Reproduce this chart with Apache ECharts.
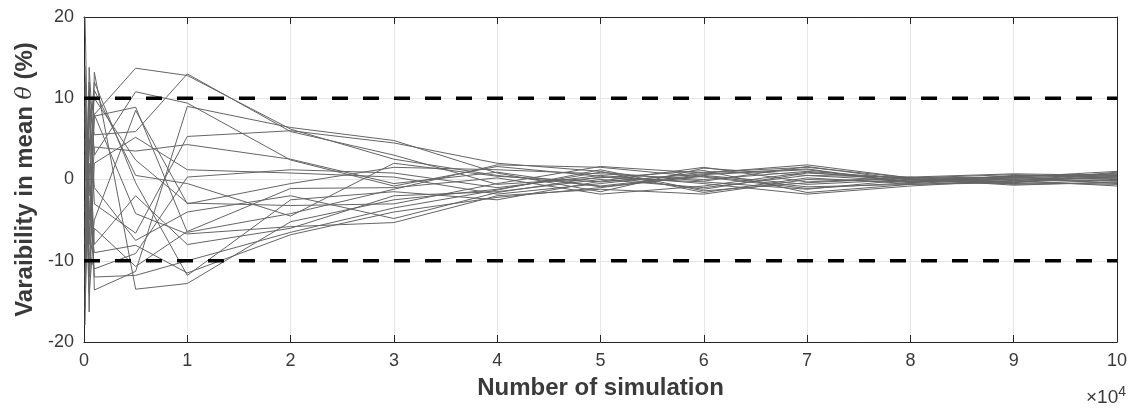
<!DOCTYPE html>
<html>
<head>
<meta charset="utf-8">
<script src="https://cdn.jsdelivr.net/npm/echarts@6/dist/echarts.min.js"></script>
<style>
  html, body { margin: 0; padding: 0; background: #fff; }
  #chart { width: 1130px; height: 408px; }
</style>
</head>
<body>
<div id="chart"></div>
<script>
// simulation counts (x), axis shown in units of 10^4
const simCounts = [100, 500, 1000, 5000, 10000, 20000, 30000, 40000, 50000, 60000, 70000, 80000, 90000, 100000]
const xTicks = ['0', '1', '2', '3', '4', '5', '6', '7', '8', '9', '10']
const yTicks = [-20, -10, 0, 10, 20]
const limitUpper = 10
const limitLower = -10

// variability of mean theta (%) for each run
const run01 = [20, -5, 8, 13.7, 12.8, 6.2, 2.5, 0.5, -0.8, 0.6, 1.2, -0.3, 0.2, 0.5]
const run02 = [-17.9, 13.8, 3, 10.8, 9.4, 2.4, -0.8, 1.6, 0.4, -1.2, 0.8, 0.1, -0.2, 0.9]
const run03 = [14, -8, 7.8, 8.9, -6.5, -4.2, -1.2, 1.8, 1.5, 0.3, -1.1, -0.4, 0.5, 0.2]
const run04 = [-15, 11, -13.6, -11.3, 9, 6.4, 4.8, 0.8, -1.5, 1.4, 0.5, 0.3, -0.6, -0.4]
const run05 = [8, -16.3, 13.2, -13.5, -12.8, -5.2, -2.5, -1.2, 0.9, -0.2, 1.6, -0.1, 0.4, 0.7]
const run06 = [-10, 9, 5.5, 5.9, 13.0, 5.9, 3.0, -0.6, 0.2, 1.1, -1.6, -0.6, -0.4, -0.6]
const run07 = [5, -12, 2, 5.2, 1.2, 0.8, 0.3, -1.8, -0.5, 0.9, 1.5, 0.2, 0.6, 0.3]
const run08 = [-6, 12, -3, -6.6, 5.3, 6.0, 4.5, 2.0, 1.0, -1.6, 0.2, -0.5, 0.1, -0.2]
const run09 = [11, -4, -9, -8.1, -11.5, -6.8, -4.0, -2.2, -1.0, 0.5, -0.6, 0.0, -0.3, 0.4]
const run10 = [-13, 7, 10, 2.4, -2.9, -3.2, -3.0, -0.5, 1.6, 0.8, 1.8, 0.2, 0.3, 1.0]
const run11 = [3, -14, -6, -10.7, -6.4, -1.1, -1.0, 0.2, -1.8, -0.8, 0.9, -0.2, -0.5, -0.1]
const run12 = [-3, 4, 12, -0.4, -11.8, -2.5, -1.5, -2.5, -0.2, 1.5, -0.3, 0.3, 0.7, 0.5]
const run13 = [9, -9, -11, -9.1, 0.3, 1.2, 0.8, -1.0, 0.5, -0.5, -1.8, -0.8, -0.1, -0.8]
const run14 = [-8, 10, 8, -4.2, -6.7, -5.8, -5.3, -2.0, -1.2, -1.8, 0.0, -0.3, 0.2, 0.1]
const run15 = [12, -11, -5, 8.5, -3, -0.5, 1.5, 1.2, 0.7, 0.0, 1.0, 0.1, -0.7, -0.3]
const run16 = [-16, 5, -8, -2.0, -8.0, -6.0, -2.0, -1.5, 0.0, -1.0, 0.5, -0.2, 0.4, 0.6]
const run17 = [7, -7, 4, 3.5, 4.3, 2.5, -0.5, 0.9, -0.9, 0.4, -0.9, -0.6, -0.2, 0.0]
const run18 = [-12, 2, -12, -11.8, -10, -6.5, -3.5, -1.3, 1.2, -1.4, -0.4, 0.2, 0.0, 0.3]
const run19 = [4, -2, 11, 0.5, -0.5, -4.5, 2.0, 0.4, -0.3, 0.7, 1.3, -0.4, 0.3, -0.5]
const run20 = [-4, 8, -1, -7.5, -4.0, -2.0, -4.8, -1.6, 0.3, -0.3, -1.2, 0.0, -0.4, 0.8]

const runs = [run01, run02, run03, run04, run05, run06, run07, run08, run09, run10,
  run11, run12, run13, run14, run15, run16, run17, run18, run19, run20]

const font = 'Liberation Sans, Arial, sans-serif'
const axisColor = '#262626'
const labelColor = '#3a3a3a'

const chart = echarts.init(document.getElementById('chart'))

const runSeries = runs.map(function (r, i) {
  return {
    name: 'run' + (i + 1),
    type: 'line',
    data: simCounts.map(function (x, k) { return [x, r[k]] }),
    showSymbol: false,
    lineStyle: { color: '#656565', width: 1 },
    silent: true,
    animation: false
  }
})

function limitLine(v) {
  return {
    type: 'line',
    data: [[0, v], [100000, v]],
    showSymbol: false,
    lineStyle: { color: '#000', width: 3.5, type: [16, 15] },
    silent: true,
    animation: false,
    z: 5
  }
}

chart.setOption({
  backgroundColor: '#fff',
  textStyle: { fontFamily: font },
  grid: { left: 84, right: 13, top: 17, bottom: 66, containLabel: false },
  xAxis: [{
    type: 'value',
    min: 0,
    max: 100000,
    interval: 10000,
    name: 'Number of simulation',
    nameLocation: 'middle',
    nameGap: 34,
    nameTextStyle: { color: labelColor, fontSize: 24, fontWeight: 'bold', fontFamily: font },
    axisLine: { onZero: false, lineStyle: { color: axisColor, width: 1 } },
    axisTick: { inside: true, length: 7, lineStyle: { color: axisColor } },
    axisLabel: {
      color: labelColor, fontSize: 18, margin: 10, fontFamily: font,
      formatter: function (v) { return xTicks[Math.round(v / 10000)] }
    },
    splitLine: { show: true, lineStyle: { color: '#e6e6e6', width: 1 } }
  }, {
    type: 'value',
    position: 'top',
    min: 0,
    max: 100000,
    interval: 10000,
    axisLine: { show: true, onZero: false, lineStyle: { color: axisColor, width: 1 } },
    axisTick: { inside: true, length: 7, lineStyle: { color: axisColor } },
    axisLabel: { show: false },
    splitLine: { show: false }
  }],
  yAxis: [{
    type: 'value',
    min: yTicks[0],
    max: yTicks[yTicks.length - 1],
    interval: 10,
    name: 'Varaibility in mean {i|θ} (%)',
    nameLocation: 'middle',
    nameGap: 46,
    nameTextStyle: {
      color: labelColor, fontSize: 24, fontWeight: 'bold', fontFamily: font,
      rich: { i: { fontStyle: 'italic', fontWeight: 'normal', fontSize: 22, color: labelColor, fontFamily: 'DejaVu Serif, serif' } }
    },
    axisLine: { show: true, onZero: false, lineStyle: { color: axisColor, width: 1 } },
    axisTick: { show: true, inside: true, length: 7, lineStyle: { color: axisColor } },
    axisLabel: { color: labelColor, fontSize: 18, margin: 10, fontFamily: font },
    splitLine: { show: true, lineStyle: { color: '#e6e6e6', width: 1 } }
  }, {
    type: 'value',
    position: 'right',
    min: -20,
    max: 20,
    interval: 10,
    axisLine: { show: true, onZero: false, lineStyle: { color: axisColor, width: 1 } },
    axisTick: { show: true, inside: true, length: 7, lineStyle: { color: axisColor } },
    axisLabel: { show: false },
    splitLine: { show: false }
  }],
  graphic: [{
    type: 'text',
    right: 4,
    bottom: 1,
    style: {
      text: '×10{s|4}',
      rich: { s: { fontSize: 14, verticalAlign: 'top', padding: [0, 0, 10, 0] } },
      fontSize: 19,
      fill: labelColor,
      fontFamily: font
    }
  }],
  series: runSeries.concat([limitLine(limitUpper), limitLine(limitLower)])
})
</script>
</body>
</html>
